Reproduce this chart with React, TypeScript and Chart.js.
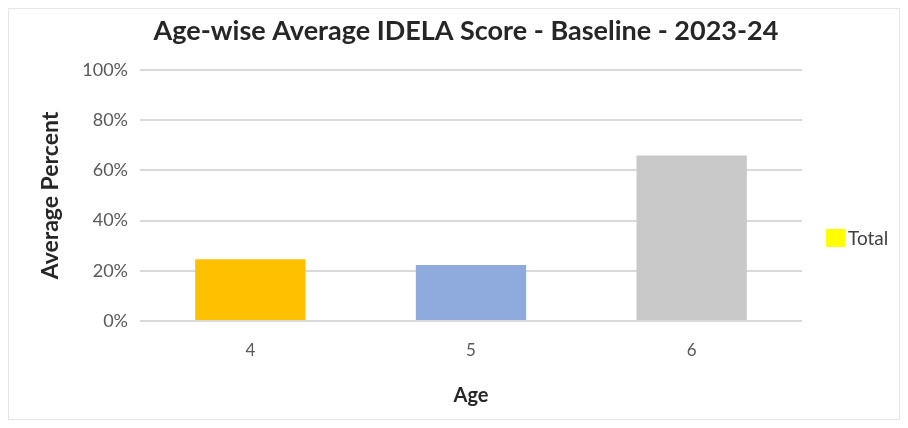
import React, { useEffect, useRef } from "react";
import { Chart, registerables } from "chart.js";

Chart.register(...registerables);

const categories = ["4", "5", "6"];
const values = [24.6, 22.3, 65.9];
const barColors = ["#FFC000", "#8FAADC", "#C9C9C9"];
const legendLabel = "Total";
const legendColor = "#FFFF00";
const titleText = "Age-wise Average IDELA Score - Baseline - 2023-24";
const xTitle = "Age";
const yTitle = "Average Percent";

const FONT = "Lato, 'Open Sans', sans-serif";

const overlayPlugin = {
  id: "overlay",
  afterDraw(chart: any) {
    const { ctx, chartArea } = chart;
    ctx.save();
    // title
    ctx.fillStyle = "#262626";
    ctx.font = `bold 27px ${FONT}`;
    ctx.textAlign = "center";
    ctx.textBaseline = "middle";
    ctx.fillText(titleText, 457, 22);
    // legend
    const x = chartArea.right + 24;
    const y = chartArea.top + (chartArea.bottom - chartArea.top) * 0.669;
    ctx.fillStyle = legendColor;
    ctx.fillRect(x, y - 9, 19, 18);
    ctx.fillStyle = "#404040";
    ctx.font = `19px ${FONT}`;
    ctx.textAlign = "left";
    ctx.fillText(legendLabel, x + 22, y + 1);
    ctx.restore();
  },
};

export default function App() {
  const ref = useRef<HTMLCanvasElement>(null);
  useEffect(() => {
    if (!ref.current) return;
    const chart = new Chart(ref.current, {
      type: "bar",
      data: {
        labels: categories,
        datasets: [
          {
            label: legendLabel,
            data: values,
            backgroundColor: barColors,
            categoryPercentage: 1,
            barPercentage: 0.5,
          },
        ],
      },
      plugins: [overlayPlugin],
      options: {
        animation: false,
        responsive: false,
        maintainAspectRatio: false,
        layout: { padding: { left: 0, right: 97, top: 61, bottom: 0 } },
        plugins: {
          legend: { display: false },
          tooltip: { enabled: false },
          title: { display: false },
        },
        scales: {
          x: {
            grid: { display: false },
            border: { display: false },
            ticks: {
              color: "#595959",
              font: { family: FONT, size: 17 },
              padding: 11,
            },
            title: {
              display: true,
              text: xTitle,
              color: "#262626",
              font: { family: FONT, size: 20, weight: "bold" },
              padding: { top: 0, bottom: 11 },
            },
            afterFit: (s: any) => {
              s.height = 98;
            },
          },
          y: {
            min: 0,
            max: 100,
            grid: { color: "#D9D9D9", lineWidth: 2, drawTicks: false },
            border: { display: false },
            ticks: {
              stepSize: 20,
              color: "#595959",
              font: { family: FONT, size: 18 },
              padding: 12,
              callback: (v: any) => v + "%",
            },
            title: {
              display: true,
              text: yTitle,
              color: "#262626",
              font: { family: FONT, size: 23, weight: "bold" },
              padding: { top: 28, bottom: 0 },
            },
            afterFit: (s: any) => {
              s.width = 131;
            },
          },
        },
      },
    });
    return () => chart.destroy();
  }, []);
  return (
    <div style={{ width: 890, height: 410, border: "1px solid #e6e6e6" }}>
      <canvas ref={ref} width={890} height={410} />
    </div>
  );
}
